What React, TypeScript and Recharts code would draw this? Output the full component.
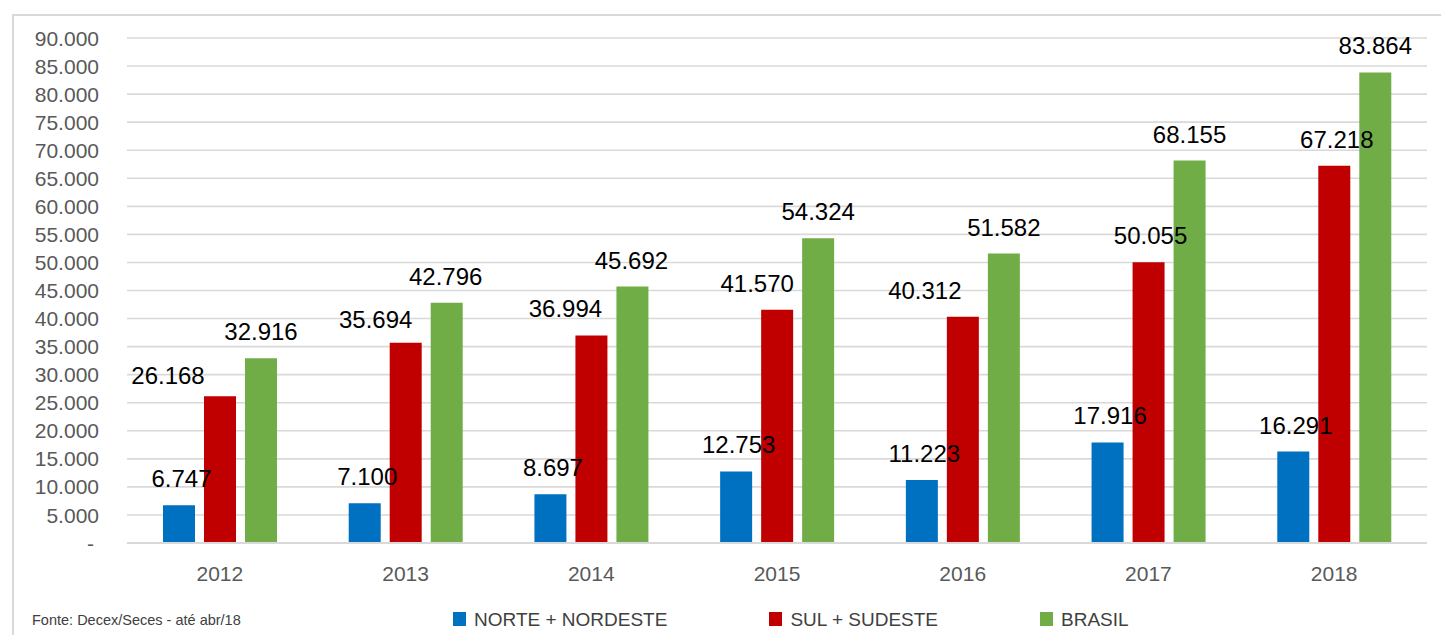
import React from 'react';
import { BarChart, Bar, XAxis, YAxis, CartesianGrid, LabelList } from 'recharts';

// ---- data ----
const years = ['2012', '2013', '2014', '2015', '2016', '2017', '2018'];
const norteNordeste = [6747, 7100, 8697, 12753, 11223, 17916, 16291];
const sulSudeste = [26168, 35694, 36994, 41570, 40312, 50055, 67218];
const brasil = [32916, 42796, 45692, 54324, 51582, 68155, 83864];
const yTicks = [0, 5000, 10000, 15000, 20000, 25000, 30000, 35000, 40000, 45000, 50000, 55000, 60000, 65000, 70000, 75000, 80000, 85000, 90000];
const seriesNames = ['NORTE + NORDESTE', 'SUL + SUDESTE', 'BRASIL'];
const sourceNote = 'Fonte: Decex/Seces - até abr/18';

// ---- style ----
const FONT = '"Liberation Sans", Arial, sans-serif';
const colors = { nn: '#0070c0', ss: '#c00000', br: '#70ad47' };
// manual label nudges (as placed in the original chart), relative to bar centre
const labelDx: Record<string, number[]> = {
  nn: [2.5, 2.5, 2.5, 2.5, 2.5, 2.5, 2.5],
  ss: [-52, -30, -26, -20, -38, 2, 2.5],
  br: [0, -1, -1, 0, 0, 0, 0],
};
const labelDy: Record<string, number[]> = {
  nn: [0, 0, 0, 0, 0, 0, 0],
  ss: [6, 3, 0, 0, 0, 0, 0],
  br: [0, 0, 0, 0, 0, 0, 0],
};
const seriesArrays: Record<string, number[]> = { nn: norteNordeste, ss: sulSudeste, br: brasil };

const data = years.map((year, i) => ({
  year,
  nn: norteNordeste[i],
  ss: sulSudeste[i],
  br: brasil[i],
}));

const fmt = (v: number) => {
  const s = Math.round(v).toString();
  return s.replace(/\B(?=(\d{3})+(?!\d))/g, '.');
};

const makeLabel = (key: string) => (props: any) => {
  const vb = props.viewBox || props;
  const x = props.x ?? vb.x;
  const y = props.y ?? vb.y;
  const w = props.width ?? vb.width;
  const value = Number(props.value);
  let idx = typeof props.index === 'number' ? props.index : -1;
  if (idx < 0 || seriesArrays[key][idx] !== value) idx = seriesArrays[key].indexOf(value);
  const dx = labelDx[key][idx] ?? 0;
  const dy = labelDy[key][idx] ?? 0;
  return (
    <text
      x={x + w / 2 + dx}
      y={y - 18 + dy}
      textAnchor="middle"
      fontSize={24}
      fontFamily={FONT}
      fill="#000000"
    >
      {fmt(value)}
    </text>
  );
};

const YTick = (props: any) => {
  const { x, y, payload } = props;
  const v = payload.value;
  return (
    <text
      x={v === 0 ? x - 5 : x}
      y={y}
      dy="0.36em"
      textAnchor="end"
      fontSize={21}
      fontFamily={FONT}
      fill="#595959"
    >
      {v === 0 ? '-' : fmt(v)}
    </text>
  );
};

const legendColors = [colors.nn, colors.ss, colors.br];

export default function App() {
  return (
    <div
      style={{
        position: 'relative',
        width: 1449,
        height: 643,
        margin: -8,
        overflow: 'hidden',
        background: '#ffffff',
        fontFamily: FONT,
      }}
    >
      <div
        style={{
          position: 'absolute',
          left: 12,
          top: 14,
          width: 1500,
          height: 700,
          borderLeft: '2px solid #d9d9d9',
          borderTop: '2px solid #d9d9d9',
          boxSizing: 'border-box',
        }}
      />
      <div style={{ position: 'absolute', left: 0, top: 0 }}>
        <BarChart
          width={1449}
          height={643}
          data={data}
          margin={{ top: 38, right: 22, left: 0, bottom: 60 }}
          barSize={32}
          barGap={9}
        >
          <CartesianGrid vertical={false} stroke="#d9d9d9" strokeWidth={1.6} />
          <XAxis
            dataKey="year"
            height={40}
            tickLine={false}
            tickSize={0}
            tickMargin={23}
            axisLine={{ stroke: '#d9d9d9', strokeWidth: 2 }}
            tick={{ fill: '#595959', fontSize: 21, fontFamily: FONT }}
          />
          <YAxis
            width={127}
            domain={[0, 90000]}
            ticks={yTicks}
            interval={0}
            axisLine={false}
            tickLine={false}
            tickSize={0}
            tickMargin={28}
            tick={<YTick />}
          />
          <Bar dataKey="nn" name={seriesNames[0]} fill={colors.nn} isAnimationActive={false}>
            <LabelList dataKey="nn" content={makeLabel('nn')} />
          </Bar>
          <Bar dataKey="ss" name={seriesNames[1]} fill={colors.ss} isAnimationActive={false}>
            <LabelList dataKey="ss" content={makeLabel('ss')} />
          </Bar>
          <Bar dataKey="br" name={seriesNames[2]} fill={colors.br} isAnimationActive={false}>
            <LabelList dataKey="br" content={makeLabel('br')} />
          </Bar>
        </BarChart>
      </div>
      <div
        style={{
          position: 'absolute',
          left: 453,
          top: 609.5,
          display: 'flex',
          alignItems: 'center',
          gap: 102,
          fontSize: 19,
          lineHeight: '19px',
          color: '#404040',
          whiteSpace: 'nowrap',
        }}
      >
        {seriesNames.map((n, i) => (
          <div key={n} style={{ display: 'flex', alignItems: 'center' }}>
            <span style={{ display: 'inline-block', width: 13, height: 14, background: legendColors[i], marginRight: 8 }} />
            <span>{n}</span>
          </div>
        ))}
      </div>
      <div
        style={{
          position: 'absolute',
          left: 32,
          top: 613,
          fontSize: 14.5,
          lineHeight: '14.5px',
          color: '#404040',
          whiteSpace: 'nowrap',
        }}
      >
        {sourceNote}
      </div>
    </div>
  );
}
